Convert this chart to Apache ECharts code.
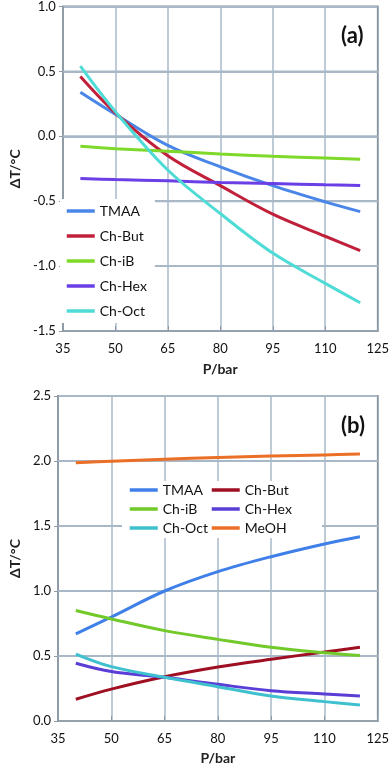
<!DOCTYPE html>
<html><head><meta charset="utf-8">
<script src="https://cdn.jsdelivr.net/npm/echarts@6/dist/echarts.min.js"></script>
<style>html,body{margin:0;padding:0;background:#fff}#c{width:392px;height:766px}</style>
</head><body><div id="c"></div>
<script>
var pressure = [40, 50, 65, 80, 95, 110, 120];
var xRange = [35, 125];
var yTicksA = [-1.5, -1.0, -0.5, 0.0, 0.5, 1.0];
var yTicksB = [0.0, 0.5, 1.0, 1.5, 2.0, 2.5];
// Panel (a)
var tmaaA = [0.34, 0.17, -0.07, -0.235, -0.38, -0.505, -0.58];
var butA  = [0.46, 0.18, -0.15, -0.38, -0.60, -0.77, -0.88];
var ibA   = [-0.077, -0.095, -0.115, -0.136, -0.154, -0.167, -0.177];
var hexA  = [-0.325, -0.333, -0.343, -0.356, -0.364, -0.374, -0.379];
var octA  = [0.54, 0.19, -0.26, -0.595, -0.90, -1.133, -1.282];
// Panel (b)
var tmaaB = [0.67, 0.80, 1.00, 1.149, 1.264, 1.362, 1.418];
var butB  = [0.167, 0.245, 0.34, 0.415, 0.475, 0.53, 0.567];
var ibB   = [0.85, 0.785, 0.695, 0.628, 0.567, 0.525, 0.503];
var hexB  = [0.444, 0.38, 0.336, 0.282, 0.233, 0.208, 0.192];
var octB  = [0.515, 0.418, 0.336, 0.264, 0.192, 0.149, 0.123];
var meohB = [1.987, 1.998, 2.013, 2.027, 2.038, 2.047, 2.053];

var namesA = ['TMAA', 'Ch-But', 'Ch-iB', 'Ch-Hex', 'Ch-Oct'];
var valuesA = [tmaaA, butA, ibA, hexA, octA];
var colorsA = ['#4a86e8', '#c0203a', '#7fd92a', '#6a3fe6', '#4fdbd6'];
var namesB = ['TMAA', 'Ch-But', 'Ch-iB', 'Ch-Hex', 'Ch-Oct', 'MeOH'];
var valuesB = [tmaaB, butB, ibB, hexB, octB, meohB];
var colorsB = ['#3f7fe8', '#9e0f22', '#72c92a', '#5a3ed6', '#3ec0cf', '#eb6f26'];

var FONT = 'Lato, "Liberation Sans", sans-serif';
var gridCol = '#a9b8c7';
var axisCol = '#8e9aa6';

function pairs(v) { return pressure.map(function (p, i) { return [p, v[i]]; }); }

var series = [];
// horizontal gridlines at the interior tick values, beneath the curves
function addGridSeries(ticks, gi) {
  ticks.slice(1, -1).forEach(function (v) {
    series.push({ type: 'line', xAxisIndex: gi, yAxisIndex: gi, z: 1, silent: true, symbol: 'none',
      data: xRange.map(function (x) { return [x, v]; }),
      lineStyle: { color: gridCol, width: 2 }, emphasis: { disabled: true }, tooltip: { show: false } });
  });
}
addGridSeries(yTicksA, 0);
addGridSeries(yTicksB, 1);
namesA.forEach(function (n, i) {
  series.push({ name: n, type: 'line', xAxisIndex: 0, yAxisIndex: 0, data: pairs(valuesA[i]), z: 3,
    symbol: 'none', smooth: 0.35, lineStyle: { width: 3, color: colorsA[i] }, itemStyle: { color: colorsA[i] } });
});
namesB.forEach(function (n, i) {
  series.push({ name: n, type: 'line', xAxisIndex: 1, yAxisIndex: 1, data: pairs(valuesB[i]), z: 3,
    symbol: 'none', smooth: 0.35, lineStyle: { width: 3, color: colorsB[i] }, itemStyle: { color: colorsB[i] } });
});

function xAx(gi, gap) {
  return { type: 'value', gridIndex: gi, min: xRange[0], max: xRange[1], interval: 15,
    name: 'P/bar', nameLocation: 'middle', nameGap: gap,
    nameTextStyle: { fontFamily: FONT, fontWeight: 'bold', fontSize: 14, color: '#222' },
    axisLine: { show: true, onZero: false, lineStyle: { color: axisCol, width: 1.5 } },
    axisTick: { show: true, inside: true, length: 5, lineStyle: { color: axisCol } },
    axisLabel: { fontFamily: FONT, fontSize: 13, color: '#111', margin: 11 },
    splitLine: { show: true, lineStyle: { color: gridCol, width: 1.5, type: 'solid' } } };
}
function yAx(gi, ticks) {
  return { type: 'value', gridIndex: gi, min: ticks[0], max: ticks[ticks.length - 1], interval: 0.5,
    name: 'ΔT/°C', nameLocation: 'middle', nameGap: 34, nameRotate: 90,
    nameTextStyle: { fontFamily: FONT, fontWeight: 'bold', fontSize: 14, color: '#222' },
    axisLine: { show: true, onZero: false, lineStyle: { color: axisCol, width: 1.5 } },
    axisTick: { show: true, length: 4, lineStyle: { color: axisCol } },
    axisLabel: { fontFamily: FONT, fontSize: 13, color: '#111', margin: 7,
      formatter: function (v) { return v.toFixed(1); } },
    splitLine: { show: true, lineStyle: { color: gridCol, width: 2, type: 'solid' } } };
}

function legItems(names, colors, list) {
  return list.map(function (n) {
    var i = names.indexOf(n);
    return { name: n, itemStyle: { color: colors[i], opacity: 0 }, lineStyle: { color: colors[i], width: 3.5 } };
  });
}

var chart = echarts.init(document.getElementById('c'));
chart.setOption({
  animation: false,
  title: [
    { text: '(a)', left: 336, top: 20, textStyle: { fontFamily: FONT, fontWeight: 'bold', fontSize: 22, color: '#111' } },
    { text: '(b)', left: 336, top: 410, textStyle: { fontFamily: FONT, fontWeight: 'bold', fontSize: 22, color: '#111' } }
  ],
  grid: [
    { left: 52, right: 11, top: 6, height: 325, show: true, borderColor: '#222', borderWidth: 1.5, backgroundColor: 'transparent' },
    { left: 52, right: 11, top: 396, height: 325, show: true, borderColor: '#222', borderWidth: 1.5, backgroundColor: 'transparent' }
  ],
  xAxis: [xAx(0, 31), xAx(1, 30)],
  yAxis: [yAx(0, yTicksA), yAx(1, yTicksB)],
  legend: [
    { orient: 'vertical', left: 60, top: 199, itemWidth: 28, itemHeight: 14, itemGap: 11, z: 10,
      backgroundColor: '#fff', padding: [5, 8, 5, 5],
      textStyle: { fontFamily: FONT, fontSize: 14, color: '#111' },
      data: legItems(namesA, colorsA, namesA) },
    { orient: 'vertical', left: 122, top: 481, itemWidth: 28, itemHeight: 12, itemGap: 5, z: 10,
      backgroundColor: '#fff', padding: [2, 30, 3, 6],
      textStyle: { fontFamily: FONT, fontSize: 14, color: '#111' },
      data: legItems(namesB, colorsB, ['TMAA', 'Ch-iB', 'Ch-Oct']) },
    { orient: 'vertical', left: 204, top: 481, itemWidth: 28, itemHeight: 12, itemGap: 5, z: 10,
      backgroundColor: '#fff', padding: [2, 30, 3, 6],
      textStyle: { fontFamily: FONT, fontSize: 14, color: '#111' },
      data: legItems(namesB, colorsB, ['Ch-But', 'Ch-Hex', 'MeOH']) }
  ],
  series: series
});
</script></body></html>
